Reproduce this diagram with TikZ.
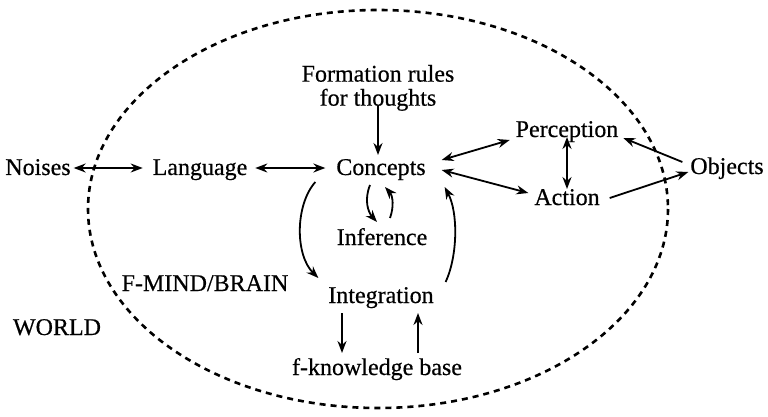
\documentclass[tikz,border=0pt]{standalone}
\usepackage{fontspec}
\setmainfont{Liberation Serif}
\newfontfamily\diagfont{Liberation Serif}[FakeBold=0.5]
\usetikzlibrary{arrows.meta}
\begin{document}
\begin{tikzpicture}[x=1pt,y=-1pt,
  lbl/.style={inner sep=0pt, outer sep=0pt, font=\diagfont\fontsize{24}{24}\selectfont,
              text height=17pt, text depth=5pt, anchor=base},
  link/.style={line width=1.8pt, -{Stealth[length=12pt,width=9pt]}},
  dlink/.style={line width=1.8pt, {Stealth[length=12pt,width=9pt]}-{Stealth[length=12pt,width=9pt]}},
  boundary/.style={line width=2.6pt, dash pattern=on 6pt off 5pt}]
\useasboundingbox (0,0) rectangle (768,417);

% mind/brain boundary
\draw[boundary] (378,209) ellipse [x radius=290, y radius=199];

% labels
\node[lbl] (noises)      at (38,175)  {Noises};
\node[lbl] (language)    at (200,175) {Language};
\node[lbl] (concepts)    at (381,175) {Concepts};
\node[inner sep=0pt, outer sep=0pt, font=\diagfont\fontsize{24}{24}\selectfont,
      align=center, anchor=north] (formation) at (378,65) {Formation rules\\for thoughts};
\node[lbl] (inference)   at (382,245) {Inference};
\node[lbl] (perception)  at (567,137) {Perception};
\node[lbl] (action)      at (567,205) {Action};
\node[lbl] (objects)     at (727,174) {Objects};
\node[lbl] (integration) at (381,303) {Integration};
\node[lbl] (kb)          at (377,375) {f-knowledge base};
\node[lbl] (fmind)       at (205,291) {F-MIND/BRAIN};
\node[lbl] (world)       at (57,335)  {WORLD};

% straight connectors
\draw[dlink] ([shift={(3,-1)}]noises.east) -- ([shift={(-10,-1)}]language.west);
\draw[dlink] ([shift={(8,-1)}]language.east) -- ([shift={(-11,-1)}]concepts.west);
\draw[link] ([yshift=5]formation.south) -- ([shift={(-3,-3)}]concepts.north);
\draw[dlink] ([shift={(16,-9)}]concepts.east) -- ([shift={(-6,9)}]perception.west);
\draw[dlink] ([shift={(16,1)}]concepts.east) -- ([shift={(-6,-6)}]action.west);
\draw[dlink] ([yshift=5]perception.south) -- ([yshift=-1]action.north);
\draw[link] ([shift={(-8,-6)}]objects.west) -- ([shift={(5,7)}]perception.east);
\draw[link] ([shift={(10,-1)}]action.east) -- ([shift={(-2,4)}]objects.west);
\draw[link] ([shift={(-39,5)}]integration.south) -- ([shift={(-35,-5)}]kb.north);
\draw[link] ([shift={(41,-5)}]kb.north) -- ([shift={(37,5)}]integration.south);

% curved connectors
\draw[link] ([shift={(-11,5)}]concepts.south)
  .. controls (364,200) and (368,212) .. ([shift={(-5,-6)}]inference.north);
\draw[link] ([shift={(8,-10)}]inference.north)
  .. controls (394,207) and (393,196) .. ([shift={(4,7)}]concepts.south);
\draw[link] ([shift={(-21,2)}]concepts.south west)
  .. controls (295,205) and (295,255) .. ([shift={(-10,-8)}]integration.north west);
\draw[link] ([shift={(12,-15)}]integration.east)
  .. controls (458,255) and (458,212) .. ([shift={(19,7)}]concepts.south east);
\end{tikzpicture}
\end{document}
